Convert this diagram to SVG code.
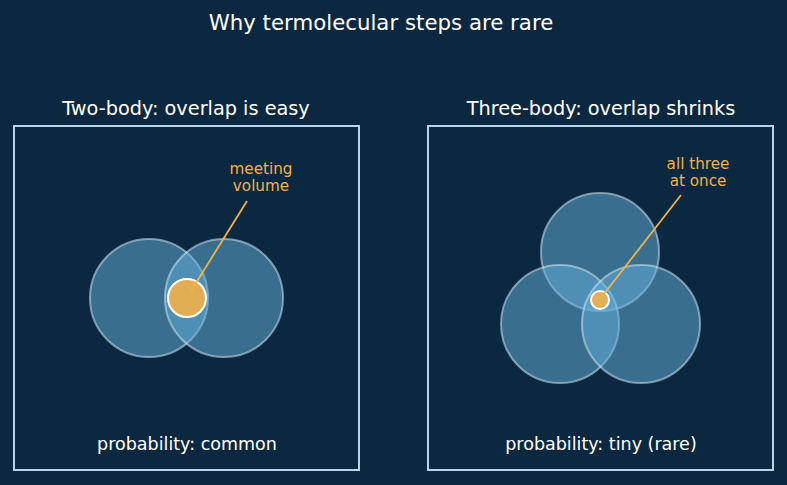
<svg xmlns="http://www.w3.org/2000/svg" width="787" height="485" viewBox="0 0 787 485">
<style>
text{font-family:"DejaVu Sans",sans-serif;}
.title{fill:#ffffff;font-size:21.3px;text-anchor:middle;}
.ptitle{fill:#ffffff;font-size:19.3px;text-anchor:middle;}
.label{fill:#ffffff;font-size:17.5px;text-anchor:middle;}
.note{fill:#f2b14a;font-size:15.2px;text-anchor:middle;}
.frame{fill:none;stroke:#b7d3e6;stroke-width:2;}
.mol{fill:#64afd9;fill-opacity:0.52;stroke:#d2e6f2;stroke-opacity:0.55;stroke-width:2;}
.meet{fill:#f2b14a;fill-opacity:0.9;stroke:#ffffff;stroke-width:2;}
.lead{stroke:#f2b14a;stroke-width:1.8;fill:none;}
</style>
<rect width="787" height="485" fill="#0c2840"/>
<text class="title" x="381" y="30">Why termolecular steps are rare</text>
<g id="panel-two">
<text class="ptitle" x="186" y="115">Two-body: overlap is easy</text>
<rect class="frame" x="14" y="126" width="345" height="344"/>
<g id="mol-a"><circle class="mol" cx="149" cy="298" r="59"/></g>
<g id="mol-b"><circle class="mol" cx="224" cy="298" r="59"/></g>
<g id="meet-two"><circle class="meet" cx="187" cy="298" r="19"/></g>
<text class="note" x="261" y="174">meeting</text>
<text class="note" x="261" y="191">volume</text>
<text class="label" x="187" y="450">probability: common</text>
</g>
<g id="panel-three">
<text class="ptitle" x="601" y="115">Three-body: overlap shrinks</text>
<rect class="frame" x="428" y="126" width="345" height="344"/>
<g id="mol-c"><circle class="mol" cx="600" cy="252" r="59"/></g>
<g id="mol-d"><circle class="mol" cx="560" cy="324" r="59"/></g>
<g id="mol-e"><circle class="mol" cx="641" cy="324" r="59"/></g>
<g id="meet-three"><circle class="meet" cx="600" cy="300" r="9"/></g>
<text class="note" x="698" y="169">all three</text>
<text class="note" x="698" y="186">at once</text>
<text class="label" x="601" y="450">probability: tiny (rare)</text>
</g>
<g id="connectors">
<line class="lead" x1="247" y1="201" x2="191" y2="291"/>
<line class="lead" x1="681" y1="195" x2="604" y2="294"/>
</g>
</svg>
